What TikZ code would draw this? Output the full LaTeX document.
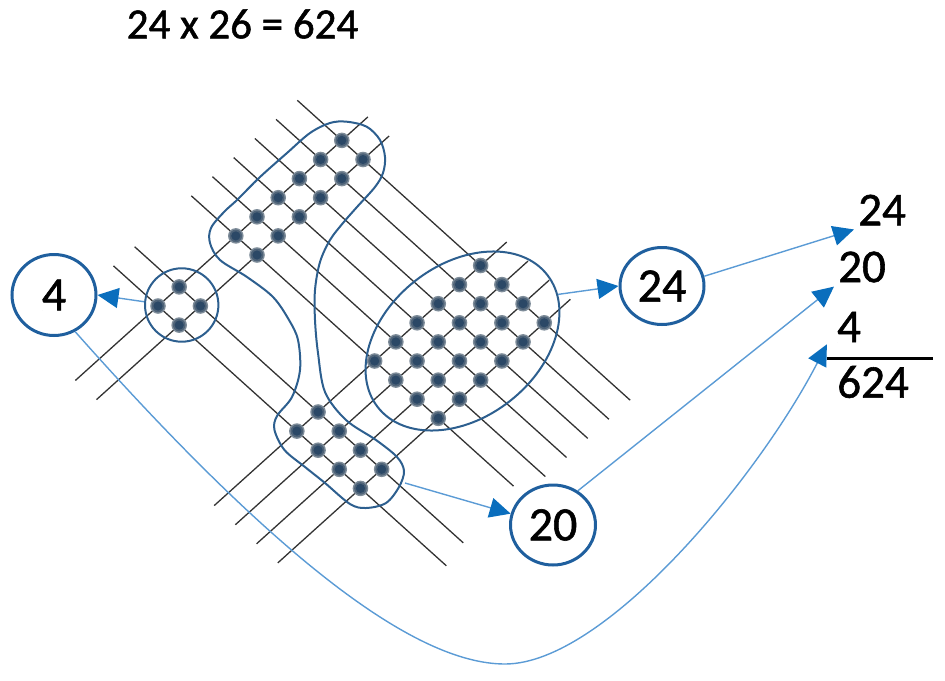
\documentclass[tikz,border=0pt]{standalone}
\usepackage{fontspec}
\setmainfont{Carlito}[FakeBold=1.2]
\usetikzlibrary{arrows.meta,shapes.geometric}
\definecolor{nodeblue}{HTML}{1F5F9E}
\definecolor{blobblue}{HTML}{2D5F8F}
\definecolor{connblue}{HTML}{5B9BD5}
\definecolor{tipblue}{HTML}{0A6EBD}
\definecolor{latgray}{HTML}{333333}
\definecolor{dotout}{HTML}{7E8C99}
\definecolor{dotmid}{HTML}{4E6378}
\definecolor{dotin}{HTML}{2B4866}
\begin{document}
\begin{tikzpicture}[x=1pt,y=-1pt,
  latline/.style={draw=latgray,line width=1.3pt},
  blob/.style={draw=blobblue,line width=2pt},
  numnode/.style={draw=nodeblue,line width=3pt,ellipse,inner sep=0pt,
    font=\fontsize{48}{56}\selectfont},
  numtext/.style={inner sep=4pt,font=\fontsize{47}{56}\selectfont},
  conn/.style={draw=connblue,line width=1.4pt,
    -{Triangle[length=21pt,width=20pt,color=tipblue]}}]
\useasboundingbox (0,0) rectangle (945,680);
% lattice lines running down-right
\foreach \s/\re in {0/13.6,1/13.4,3.67/13.1,4.67/13.6,5.67/13.6,6.67/13.6,7.67/13.6,8.67/13.6}{
  \draw[latline] ({158+21.2*(-2.1+\s)},{306+19.1*(-2.1-\s)}) -- ({158+21.2*(\re+\s)},{306+19.1*(\re-\s)});
}
% lattice lines running up-right
\foreach \r in {0,1,6.55,7.55,8.55,9.55}{
  \draw[latline] ({158+21.2*(\r-3.9)},{306+19.1*(\r+3.9)}) -- ({158+21.2*(\r+9.9)},{306+19.1*(\r-9.9)});
}
% groups
\node[blob,circle,minimum size=73.4pt,inner sep=0pt] (c4) at (181.7,305) {};
\node[blob,ellipse,minimum width=215pt,minimum height=153pt,inner sep=0pt,rotate=38] (e24) at (462.5,341) {};
\draw[blob] plot[smooth cycle,tension=0.55] coordinates {
  (346.7,121.7) (366.7,126.7) (380,140) (385,157) (383,173) (375,187) (357,207)
  (343,223) (330,240) (320,262) (315,290) (315,320) (318,353) (325,392) (346,420)
  (376,440) (397,457) (404,471) (399,487) (386,503) (366,508) (350,504) (325,483)
  (305,467) (284.5,450) (274.5,430) (277,416) (292,397) (300,370) (298,340) (289,320)
  (273,297) (247,277) (220,260) (210,243) (211,228) (224,212) (237,200) (260,177)
  (287,153) (310,133) (330,123)};
\coordinate (blobout) at (405,483);
% dots at every crossing
\foreach \r in {0,1,6.55,7.55,8.55,9.55}{
  \foreach \s in {0,1,3.67,4.67,5.67,6.67,7.67,8.67}{
    \fill[dotout] ({158+21.2*(\r+\s)},{306+19.1*(\r-\s)}) circle (7.8);
    \fill[dotmid] ({158+21.2*(\r+\s)},{306+19.1*(\r-\s)}) circle (6.3);
    \fill[dotin] ({158+21.2*(\r+\s)},{306+19.1*(\r-\s)}) circle (4.6);
  }
}
% title
\node[font=\fontsize{43}{50}\selectfont,inner sep=0pt] (title) at (242.5,24) {24 x 26 = 624};
% result nodes
\node[numnode,minimum width=84pt,minimum height=81pt] (n4) at (54,295) {4};
\node[numnode,minimum width=84pt,minimum height=77pt] (n24) at (662,286) {24};
\node[numnode,minimum width=85pt,minimum height=80pt] (n20) at (553,525) {20};
% column sum
\node[numtext] (t24) at (882,210) {24};
\node[numtext] (t20) at (862,267) {20};
\node[numtext] (t4) at (849,327) {4};
\node[numtext] (t624) at (873,382) {624};
\draw[line width=3pt,black] (826.7,358.3) -- (932.7,358.3);
% connectors
\coordinate (bot) at (505,664);
\draw[conn] (c4.175) -- (n4.east);
\draw[conn] (e24.-12) -- (n24.west);
\draw[conn] (blobout) -- (n20.165);
\draw[conn] (n24.13) -- (t24.south west);
\draw[conn] (n20.54) -- (t20.south west);
\draw[conn] (n4.-60) .. controls (276,558) and (415,664) .. (bot)
  .. controls (605,664) and (759,476) .. ([xshift=-6pt,yshift=2pt]t4.south west);
\end{tikzpicture}
\end{document}
